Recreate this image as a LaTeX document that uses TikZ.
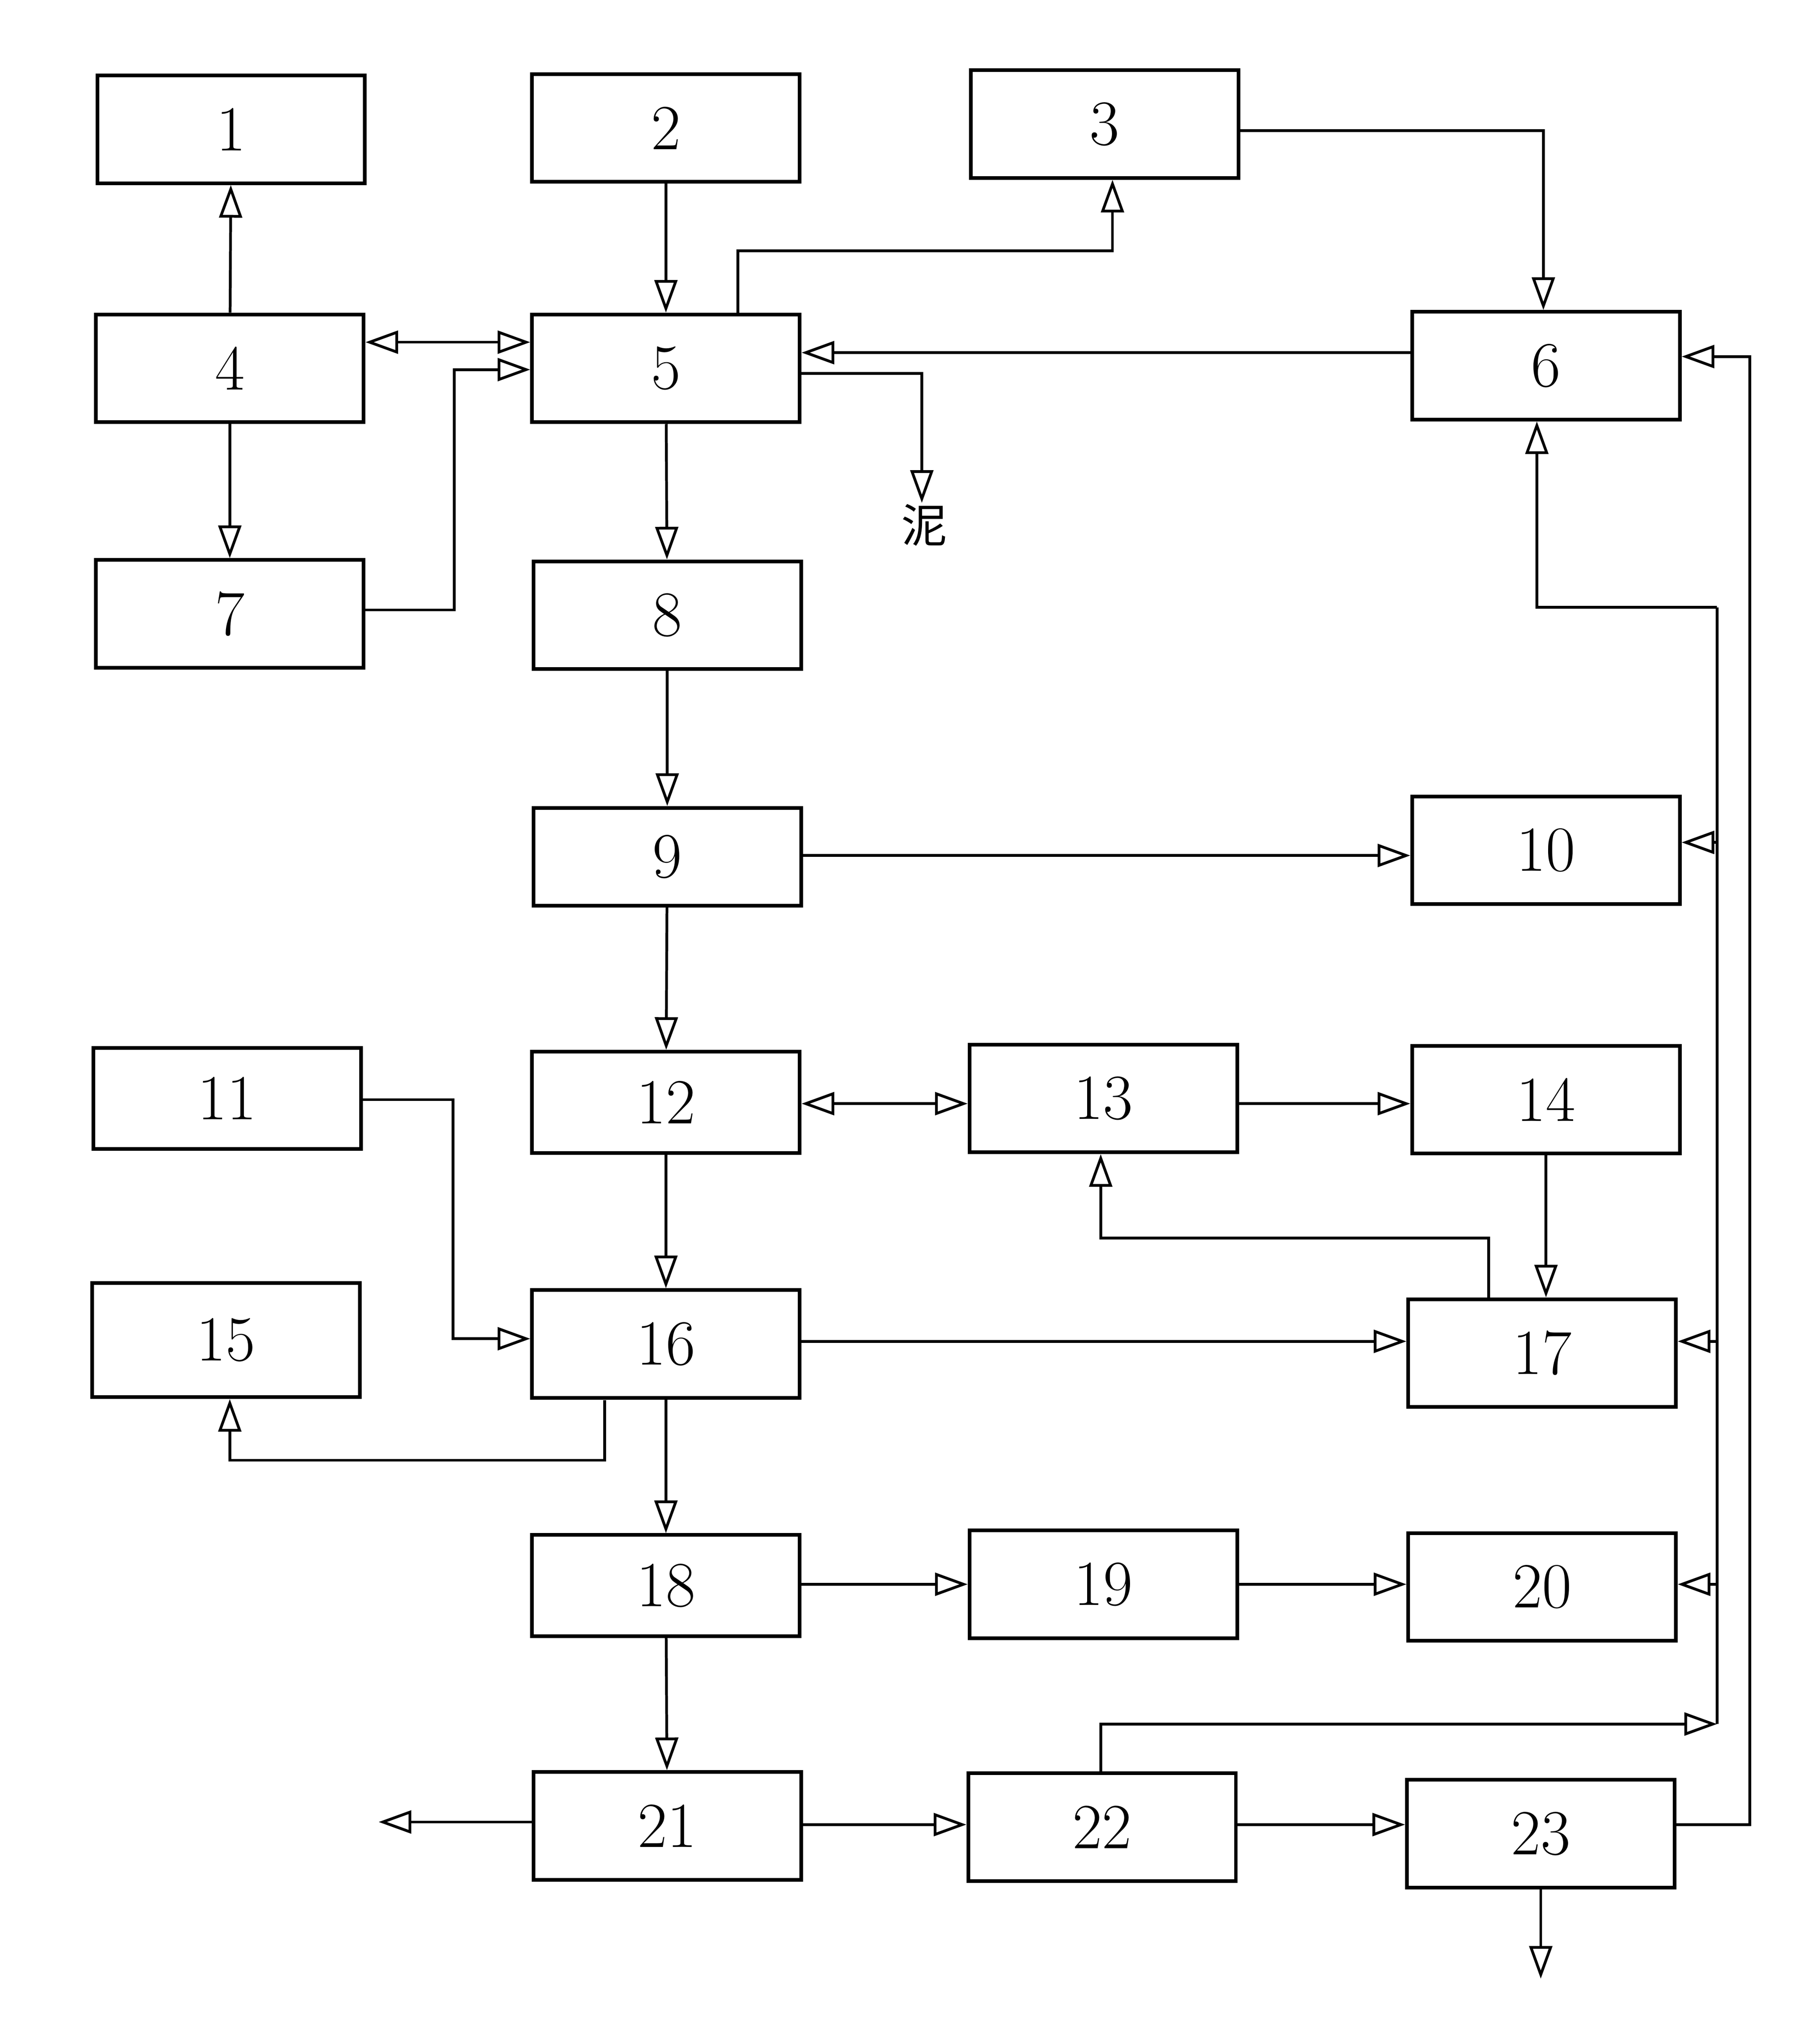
\documentclass[tikz,border=0pt]{standalone}
\usepackage{fontspec}
\newfontfamily\cjk{Noto Sans CJK SC}
\usetikzlibrary{arrows.meta}
\begin{document}
\begin{tikzpicture}[x=0.2mm,y=-0.2mm,
 box/.style={draw,line width=1.6pt,minimum width=41mm,minimum height=16.5mm,inner sep=0,font=\fontsize{28}{30}\selectfont},
 ln/.style={line width=1.2pt},
 ar/.style={ln,-{Triangle[open,length=5mm,width=3.5mm,line width=1.2pt]}},
 ba/.style={ln,{Triangle[open,length=5mm,width=3.5mm,line width=1.2pt]}-{Triangle[open,length=5mm,width=3.5mm,line width=1.2pt]}}]
\useasboundingbox (0,0) rectangle (1390,1565);
\node[box] (n1) at (177,99) {1};
\node[box] (n2) at (510,98) {2};
\node[box] (n3) at (846,95) {3};
\node[box] (n4) at (176,282) {4};
\node[box] (n5) at (510,282) {5};
\node[box] (n6) at (1184,280) {6};
\node[box] (n7) at (176,470) {7};
\node[box] (n8) at (511,471) {8};
\node[box,minimum height=15mm] (n9) at (511,656) {9};
\node[box] (n10) at (1184,651) {10};
\node[box,minimum height=15.5mm] (n11) at (174,841) {11};
\node[box,minimum height=15.5mm] (n12) at (510,844) {12};
\node[box] (n13) at (845,841) {13};
\node[box] (n14) at (1184,842) {14};
\node[box,minimum height=17.5mm] (n15) at (173,1026) {15};
\node[box] (n16) at (510,1029) {16};
\node[box] (n17) at (1181,1036) {17};
\node[box,minimum height=15.5mm] (n18) at (510,1214) {18};
\node[box] (n19) at (845,1213) {19};
\node[box] (n20) at (1181,1215) {20};
\node[box] (n21) at (511,1398) {21};
\node[box] (n22) at (844,1399) {22};
\node[box] (n23) at (1180,1404) {23};
\coordinate (mud) at (706,385);
\node[font=\cjk\fontsize{20}{22}\selectfont] (mt) at (708,402) {泥};
\coordinate (out21) at (290,1395);
\coordinate (out23) at (1180,1515);
\draw[ar] (n4) -- (n1);
\draw[ar] (n2) -- (n5);
\draw[ar] (n4) -- (n7);
\draw[ba] (n4.east |- 0,262) -- (n5.west |- 0,262);
\draw[ar] (n7.east |- 0,467) -- (348,467) |- (n5.west |- 0,283);
\draw[ar] (565,241) -- (565,192) -| (n3.south -| 852,0);
\draw[ar] (n3.east |- 0,100) -| (n6.north -| 1182,0);
\draw[ar] (n6.west |- 0,270) -- (n5.east |- 0,270);
\draw[ar] (n5.east |- 0,286) -| (mud);
\draw[ar] (n5) -- (n8);
\draw[ar] (n8) -- (n9);
\draw[ar] (n9.east |- 0,655) -- (n10.west |- 0,655);
\draw[ar] (n9) -- (n12);
\draw[ba] (n12.east |- 0,845) -- (n13.west |- 0,845);
\draw[ar] (n13.east |- 0,845) -- (n14.west |- 0,845);
\draw[ar] (n14) -- (n17.north -| n14);
\draw[ar] (1140,995) -- (1140,948) -| (n13.south -| 843,0);
\draw[ar] (n11.east |- 0,842) -- (347,842) |- (n16.west |- 0,1025);
\draw[ar] (n12) -- (n16);
\draw[ar] (n16.east |- 0,1027) -- (n17.west |- 0,1027);
\draw[ar] (463,1072) -- (463,1118) -| (n15.south -| 176,0);
\draw[ar] (n16) -- (n18);
\draw[ar] (n18.east |- 0,1213) -- (n19.west |- 0,1213);
\draw[ar] (n19.east |- 0,1213) -- (n20.west |- 0,1213);
\draw[ar] (n18) -- (n21);
\draw[ar] (n21.west |- 0,1395) -- (out21);
\draw[ar] (n21.east |- 0,1397) -- (n22.west |- 0,1397);
\draw[ar] (n22.east |- 0,1397) -- (n23.west |- 0,1397);
\draw[ar] (n23) -- (out23);
\draw[ar] (n22.north -| 843,0) -- (843,1320) -- (1315,1320);
\draw[ln] (1315,1320) -- (1315,465);
\draw[ar] (1315,465) -| (n6.south -| 1177,0);
\draw[ar] (1315,645) -- (n10.east |- 0,645);
\draw[ar] (1315,1027) -- (n17.east |- 0,1027);
\draw[ar] (1315,1213) -- (n20.east |- 0,1213);
\draw[ar] (n23.east |- 0,1397) -- (1340,1397) |- (n6.east |- 0,273);
\end{tikzpicture}
\end{document}
